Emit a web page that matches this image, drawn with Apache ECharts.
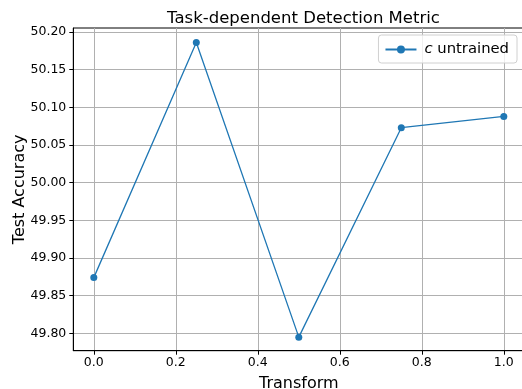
<!DOCTYPE html>
<html>
<head>
<meta charset="utf-8">
<script src="https://cdn.jsdelivr.net/npm/echarts@6/dist/echarts.min.js"></script>
<style>
  html, body { margin: 0; padding: 0; background: #fff; }
  #chart { width: 522px; height: 389px; }
</style>
</head>
<body>
<div id="chart"></div>
<script>
// Test accuracy of the untrained detector at each transform strength
const transformValues = [0.0, 0.25, 0.5, 0.75, 1.0];
const accuracyValues = [49.874, 50.186, 49.795, 50.073, 50.088];
const xTicks = [0.0, 0.2, 0.4, 0.6, 0.8, 1.0];
const yTicks = [49.80, 49.85, 49.90, 49.95, 50.00, 50.05, 50.10, 50.15, 50.20];

const FONT = 'DejaVu Sans';
const chart = echarts.init(document.getElementById('chart'), null, { renderer: 'canvas' });

chart.setOption({
  animation: false,
  backgroundColor: '#ffffff',
  textStyle: { fontFamily: FONT },
  title: {
    text: 'Task-dependent Detection Metric',
    left: 298.5,
    textAlign: 'center',
    top: 5,
    textStyle: { fontFamily: FONT, fontSize: 16.5, fontWeight: 'normal', color: '#000' }
  },
  legend: {
    right: 5,
    top: 35,
    orient: 'vertical',
    itemWidth: 31,
    itemHeight: 10,
    itemGap: 8,
    padding: [7, 8, 6, 6],
    borderColor: '#d0d0d0',
    borderWidth: 1,
    borderRadius: 3,
    backgroundColor: 'rgba(255,255,255,0.8)',
    formatter: () => '{i|c} untrained',
    textStyle: {
      fontFamily: FONT, fontSize: 14.8, color: '#000',
      padding: [0, 0, 0, 3],
      rich: { i: { fontFamily: FONT, fontSize: 14.8, fontStyle: 'italic', color: '#000' } }
    },
    data: ['c untrained']
  },
  grid: {
    left: 73.3,
    top: 28,
    width: 451,
    height: 322.7,
    outerBoundsMode: 'none',
    containLabel: false,
    show: true,
    borderColor: '#000',
    borderWidth: 1,
    backgroundColor: 'transparent'
  },
  xAxis: {
    type: 'value',
    min: -0.05,
    max: 1.05,
    name: 'Transform',
    nameLocation: 'middle',
    nameGap: 25,
    nameMoveOverlap: false,
    nameTextStyle: { fontFamily: FONT, fontSize: 16, color: '#000' },
    axisLine: { show: true, onZero: false, lineStyle: { color: '#000', width: 1 } },
    axisTick: { show: true, inside: false, length: 4, customValues: xTicks, lineStyle: { color: '#000', width: 1 } },
    axisLabel: {
      customValues: xTicks,
      margin: 6,
      fontFamily: FONT, fontSize: 12.5, color: '#000',
      formatter: v => v.toFixed(1)
    },
    splitLine: { show: true, lineStyle: { color: '#b0b0b0', width: 1 } }
  },
  yAxis: {
    type: 'value',
    min: 49.777,
    max: 50.2053,
    name: 'Test Accuracy',
    nameLocation: 'middle',
    nameGap: 45,
    nameMoveOverlap: false,
    nameTextStyle: { fontFamily: FONT, fontSize: 16, color: '#000' },
    axisLine: { show: true, onZero: false, lineStyle: { color: '#000', width: 1 } },
    axisTick: { show: true, inside: false, length: 4, customValues: yTicks, lineStyle: { color: '#000', width: 1 } },
    axisLabel: {
      customValues: yTicks,
      margin: 7,
      fontFamily: FONT, fontSize: 12.5, color: '#000',
      formatter: v => v.toFixed(2)
    },
    splitLine: { show: true, lineStyle: { color: '#b0b0b0', width: 1 } }
  },
  series: [{
    name: 'c untrained',
    type: 'line',
    data: transformValues.map((x, i) => [x, accuracyValues[i]]),
    color: '#1f77b4',
    lineStyle: { width: 1.3, color: '#1f77b4' },
    symbol: 'circle',
    symbolSize: 7,
    showSymbol: true,
    itemStyle: { color: '#1f77b4' }
  }]
});
</script>
</body>
</html>
